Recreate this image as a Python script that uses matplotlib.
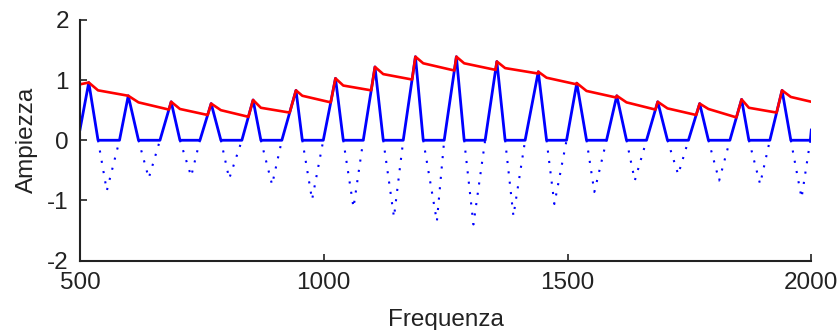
import numpy as np
import matplotlib
matplotlib.use("Agg")
import matplotlib.pyplot as plt

# values, one entry per lobe
peak_f = [518, 599, 687, 769, 855, 943, 1024, 1105, 1188, 1272, 1355, 1440,
          1519, 1601, 1685, 1771, 1857, 1940]
peak_a = [0.96, 0.74, 0.64, 0.61, 0.67, 0.83, 1.03, 1.22, 1.39, 1.39, 1.31, 1.14,
          0.95, 0.74, 0.64, 0.61, 0.68, 0.83]
down_f = [537, 620, 705, 789, 871, 956, 1040, 1122, 1204, 1288, 1372, 1457,
          1539, 1621, 1705, 1789, 1872, 1958]
up_f = [581, 664, 746, 832, 914, 999, 1081, 1163, 1247, 1331, 1413, 1498,
        1580, 1662, 1748, 1833, 1915, 1998]
trough_f = [555, 641, 728, 806, 894, 976, 1061, 1144, 1232, 1307, 1389, 1473,
            1555, 1638, 1727, 1811, 1895, 1980]
trough_a = [-0.84, -0.63, -0.60, -0.64, -0.74, -0.99, -1.12, -1.28, -1.35, -1.40, -1.26, -1.06,
            -0.86, -0.67, -0.57, -0.67, -0.73, -0.96]
# red envelope: value at the falling zero crossing and just before the next jump
red_mid = [0.83, 0.63, 0.52, 0.50, 0.54, 0.74, 0.91, 1.10, 1.28, 1.28, 1.20, 1.04,
           0.82, 0.63, 0.53, 0.52, 0.54, 0.72]
red_tail = [0.74, 0.51, 0.42, 0.39, 0.46, 0.63, 0.83, 1.01, 1.16, 1.17, 1.11, 0.93,
            0.71, 0.51, 0.42, 0.38, 0.46, 0.64]
start_blue, end_blue, start_red = 0.18, 0.17, 0.93
f_min, f_max = 500, 2000

# solid blue: positive part
bx, by = [f_min], [start_blue]
for i in range(len(peak_f)):
    bx += [peak_f[i], down_f[i], up_f[i]]
    by += [peak_a[i], 0, 0]
bx.append(f_max)
by.append(end_blue)

# dotted blue: negative part
nx, ny = [], []
for i in range(len(peak_f)):
    nx += [down_f[i], trough_f[i], up_f[i], np.nan]
    ny += [0, trough_a[i], 0, np.nan]

# red envelope, it jumps where the rising edge meets the decayed value
rx, ry = [f_min], [start_red]
for i in range(len(peak_f)):
    if i > 0:
        t = red_tail[i - 1] / peak_a[i]
        rx.append(up_f[i - 1] + (peak_f[i] - up_f[i - 1]) * t)
        ry.append(red_tail[i - 1])
    rx += [peak_f[i], down_f[i]]
    ry += [peak_a[i], red_mid[i]]
    if i < len(peak_f) - 1:
        nxt = up_f[i] + (peak_f[i + 1] - up_f[i]) * red_tail[i] / peak_a[i + 1]
        rx.append(nxt - 0.01)
        ry.append(red_tail[i])
rx.append(f_max)
ry.append(red_tail[-1])

plt.rcParams['font.family'] = ['Liberation Sans', 'DejaVu Sans']
fig = plt.figure(figsize=(8.38, 3.3), dpi=100)
ax = fig.add_axes([80 / 838, 69.5 / 330, 731.3 / 838, 240.5 / 330])

ax.plot(bx, by, color='#0000ff', lw=2.0)
ax.plot(nx, ny, color='#0000ff', lw=1.5, linestyle=(0, (1, 4.0)))
ax.plot(rx, ry, color='#ff0000', lw=1.9)

ax.set_xlim(f_min, f_max)
ax.set_ylim(-2, 2)
ax.set_xticks([500, 1000, 1500, 2000])
ax.set_yticks([-2, -1, 0, 1, 2])
ax.set_yticklabels(['-2', '-1', '0', '1', '2'])
for s in ['top', 'right']:
    ax.spines[s].set_visible(False)
for s in ['left', 'bottom']:
    ax.spines[s].set_linewidth(1.5)
    ax.spines[s].set_color('#222222')
ax.tick_params(direction='in', length=5, width=1.2, labelsize=17.5, colors='#222222')
ax.tick_params(axis='x', pad=8)
ax.tick_params(axis='y', pad=8)

ax.set_xlabel('Frequenza', fontsize=17.5, color='#222222')
ax.set_ylabel('Ampiezza', fontsize=17.5, color='#222222')
ax.xaxis.set_label_coords(0.5, -0.2)
ax.yaxis.set_label_coords(-0.058, 0.5)

fig.savefig('out.png', dpi=100)
